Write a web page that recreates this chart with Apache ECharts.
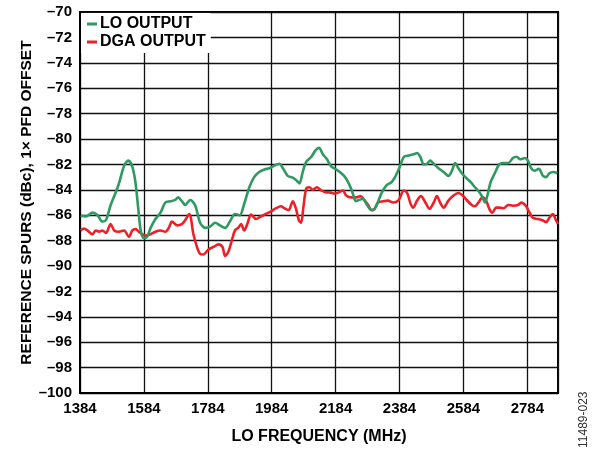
<!DOCTYPE html>
<html>
<head>
<meta charset="utf-8">
<script src="https://cdn.jsdelivr.net/npm/echarts@6/dist/echarts.min.js"></script>
<style>html,body{margin:0;padding:0;background:#fff}#c{width:602px;height:450px}</style>
</head>
<body>
<div id="c"></div>
<script>
const xTickLabels = ['1384','1584','1784','1984','2184','2384','2584','2784'];
const loFreq = [1386,1403,1423,1439,1454,1465,1480,1496,1506,1522,1535,1548,1558,1566,1574,1584,1594,1605,1620,1636,1651,1667,1682,1691,1703,1713,1729,1744,1760,1776,1791,1807,1822,1838,1853,1869,1884,1898,1914,1929,1945,1961,1977,1992,2008,2019,2034,2050,2063,2071,2081,2092,2108,2121,2132,2144,2157,2170,2186,2202,2215,2228,2238,2247,2257,2270,2280,2291,2301,2314,2327,2343,2359,2369,2383,2398,2413,2429,2439,2449,2460,2470,2480,2491,2506,2522,2537,2548,2558,2568,2579,2594,2607,2620,2634,2644,2651,2659,2669,2682,2696,2708,2724,2739,2750,2762,2776,2786,2796,2807,2820,2833,2843,2853,2866,2878];
const loSpur = [-86.05,-86.1,-85.8,-86.0,-86.5,-86.4,-85.2,-84.2,-83.5,-82.1,-81.7,-82.2,-83.5,-85.4,-87.2,-87.8,-87.7,-87.0,-86.3,-85.8,-85.0,-84.9,-84.8,-84.6,-84.9,-85.2,-84.8,-85.2,-86.6,-87.0,-86.9,-86.6,-86.8,-87.0,-86.5,-85.9,-86.0,-85.1,-83.8,-83.0,-82.6,-82.4,-82.3,-82.1,-81.95,-82.3,-82.9,-83.05,-83.3,-83.5,-82.6,-81.8,-81.4,-80.9,-80.7,-81.2,-81.6,-82.15,-82.4,-82.7,-83.05,-83.65,-84.3,-84.9,-84.8,-84.7,-85.1,-85.5,-85.6,-85.1,-84.3,-83.65,-83.4,-83.05,-82.3,-81.4,-81.3,-81.2,-81.1,-81.4,-82.0,-81.95,-81.7,-81.95,-82.3,-82.6,-82.9,-82.5,-81.9,-82.3,-82.7,-83.1,-83.4,-83.8,-84.2,-84.6,-85.0,-84.45,-83.4,-82.7,-82.0,-81.9,-81.9,-81.5,-81.4,-81.6,-81.5,-81.7,-82.3,-82.5,-82.35,-82.9,-83.0,-82.7,-82.6,-82.7];
const dgaFreq = [1386,1397,1407,1423,1433,1444,1454,1465,1480,1491,1506,1522,1537,1548,1558,1568,1579,1589,1605,1620,1636,1651,1662,1672,1688,1703,1713,1726,1739,1750,1760,1770,1786,1802,1817,1830,1838,1848,1859,1869,1879,1888,1898,1909,1919,1935,1950,1966,1982,1998,2013,2024,2037,2050,2060,2069,2076,2083,2092,2102,2113,2125,2139,2153,2165,2181,2194,2207,2217,2233,2249,2261,2275,2286,2296,2306,2317,2333,2348,2364,2380,2398,2408,2418,2427,2439,2451,2465,2478,2491,2501,2511,2522,2537,2553,2568,2584,2594,2610,2620,2631,2644,2655,2665,2675,2686,2698,2710,2724,2739,2755,2765,2779,2791,2801,2817,2831,2843,2853,2864,2872,2880];
const dgaSpur = [-87.2,-87.05,-87.2,-87.5,-87.2,-87.3,-87.2,-87.4,-86.7,-87.2,-87.3,-87.2,-87.7,-87.2,-87.1,-87.3,-87.5,-87.6,-87.5,-87.3,-87.2,-87.3,-87.0,-86.5,-86.8,-86.7,-86.4,-85.9,-87.5,-88.5,-89.05,-89.1,-88.7,-88.5,-88.3,-88.5,-89.2,-88.9,-88.0,-87.2,-87.0,-86.7,-87.2,-86.6,-85.95,-86.3,-86.1,-85.9,-85.7,-85.45,-85.3,-85.45,-85.6,-84.9,-85.5,-86.4,-86.6,-85.4,-83.9,-83.8,-84.0,-83.8,-84.05,-84.2,-84.2,-84.3,-84.2,-84.05,-84.45,-84.6,-84.6,-84.5,-84.85,-85.2,-85.6,-85.5,-85.0,-84.9,-84.85,-85.0,-84.85,-84.05,-84.25,-85.05,-85.4,-84.85,-84.5,-85.0,-85.5,-85.0,-84.5,-85.0,-85.4,-84.85,-84.45,-84.25,-84.5,-84.8,-85.2,-85.3,-85.0,-84.6,-84.85,-85.5,-85.8,-85.4,-85.4,-85.45,-85.2,-85.25,-85.2,-85.0,-85.25,-85.8,-86.2,-86.3,-86.4,-86.55,-86.2,-85.9,-86.3,-86.7];

const FONT = 'Arial, "Liberation Sans", Helvetica, sans-serif';
const chart = echarts.init(document.getElementById('c'), null, {renderer: 'canvas'});
chart.setOption({
  animation: false,
  backgroundColor: '#fff',
  textStyle: {fontFamily: FONT},
  grid: {left: 80, top: 12, right: 44, bottom: 57, show: true, borderColor: '#000', borderWidth: 2,
    backgroundColor: 'transparent', outerBoundsMode: 'none', containLabel: false},
  legend: {
    left: 81, top: 13, orient: 'vertical', backgroundColor: '#fff',
    padding: [3, 5, 3, 6], itemGap: 2, itemWidth: 10, itemHeight: 3, icon: 'rect',
    textStyle: {fontFamily: FONT, fontSize: 16, fontWeight: 'bold', color: '#000', padding: [0, 0, 0, -2]},
    data: ['LO OUTPUT', 'DGA OUTPUT']
  },
  xAxis: {
    type: 'value', min: 1384, max: 2880, interval: 200,
    name: 'LO FREQUENCY (MHz)', nameLocation: 'middle', nameGap: 36, nameMoveOverlap: false,
    nameTextStyle: {fontFamily: FONT, fontSize: 16, fontWeight: 'bold', color: '#000'},
    axisLine: {show: true, lineStyle: {color: '#000', width: 2}},
    axisTick: {show: false},
    axisLabel: {fontFamily: FONT, fontSize: 15, fontWeight: 'bold', color: '#000', margin: 8, showMaxLabel: false,
      formatter: v => xTickLabels.indexOf(String(v)) >= 0 ? String(v) : ''},
    splitLine: {show: true, lineStyle: {color: '#111', width: 1.3}}
  },
  yAxis: {
    type: 'value', min: -100, max: -70, interval: 2,
    name: 'REFERENCE SPURS (dBc), 1\u00d7 PFD OFFSET', nameLocation: 'middle', nameGap: 45, nameMoveOverlap: false,
    nameTextStyle: {fontFamily: FONT, fontSize: 15.5, fontWeight: 'bold', color: '#000'},
    axisLine: {show: true, lineStyle: {color: '#000', width: 2}},
    axisTick: {show: false},
    axisLabel: {fontFamily: FONT, fontSize: 15, fontWeight: 'bold', color: '#000', margin: 8,
      formatter: v => String(v).replace('-', '\u2013')},
    splitLine: {show: true, lineStyle: {color: '#111', width: 1.3}}
  },
  graphic: [{
    type: 'text', x: 578, y: 448, rotation: Math.PI / 2,
    style: {text: '11489-023', fontFamily: FONT, fontSize: 12, fill: '#333', textAlign: 'left', textVerticalAlign: 'top'}
  }],
  series: [
    {name: 'LO OUTPUT', type: 'line', showSymbol: false, smooth: 0.3, color: '#2e9960',
      lineStyle: {width: 2.6, color: '#2e9960'}, data: loFreq.map((f, i) => [f, loSpur[i]]), z: 3},
    {name: 'DGA OUTPUT', type: 'line', showSymbol: false, smooth: 0.3, color: '#ee2027',
      lineStyle: {width: 2.6, color: '#ee2027'}, data: dgaFreq.map((f, i) => [f, dgaSpur[i]]), z: 2}
  ]
});
</script>
</body>
</html>
